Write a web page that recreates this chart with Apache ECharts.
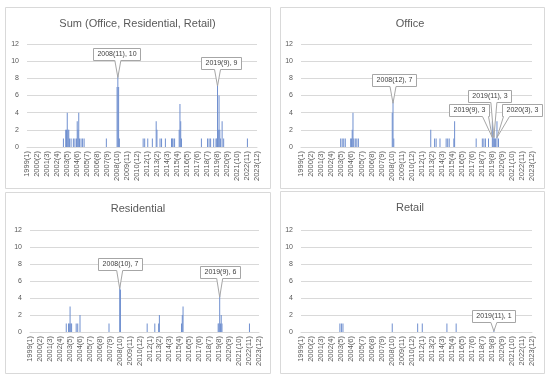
<!DOCTYPE html>
<html><head><meta charset="utf-8">
<script src="https://cdn.jsdelivr.net/npm/echarts@6/dist/echarts.min.js"></script>
<style>html,body{margin:0;padding:0;background:#fff}#c{width:550px;height:377px}</style>
</head><body><div id="c"></div><script>
// ---- categories (monthly, 1999(1) .. 2023(12)) ----
const startYear = 1999, endYear = 2023;
const categories = [];
for (let y = startYear; y <= endYear; y++) for (let m = 1; m <= 12; m++) categories.push(y + '(' + m + ')');

// ---- tick labels ----
const yTicks = [0, 2, 4, 6, 8, 10, 12];

// ---- series values (non-zero months only) ----
const sumPoints = [
  ['2002(12)',1],['2003(3)',2],['2003(4)',2],['2003(5)',4],['2003(6)',2],['2003(7)',2],['2003(8)',1],['2003(10)',1],
  ['2004(1)',1],['2004(3)',1],['2004(5)',1],['2004(6)',3],['2004(7)',2],['2004(8)',4],['2004(9)',1],['2004(11)',1],
  ['2005(1)',1],['2005(3)',1],['2007(8)',1],['2008(10)',7],['2008(11)',10],['2008(12)',7],['2009(1)',1],
  ['2011(8)',1],['2011(10)',1],['2012(2)',1],['2012(8)',1],['2013(1)',3],['2013(2)',2],['2013(6)',1],['2013(8)',1],
  ['2014(1)',1],['2014(9)',1],['2014(10)',1],['2014(11)',1],['2015(1)',1],['2015(7)',2],['2015(8)',5],['2015(9)',3],
  ['2015(10)',1],['2017(12)',1],['2018(8)',1],['2018(10)',1],['2018(12)',1],['2019(4)',1],['2019(7)',1],['2019(8)',1],
  ['2019(9)',9],['2019(10)',2],['2019(11)',6],['2019(12)',2],['2020(1)',1],['2020(3)',3],['2020(5)',1],['2022(12)',1]
];
const officePoints = [
  ['2003(4)',1],['2003(6)',1],['2003(8)',1],['2003(10)',1],['2004(5)',1],['2004(6)',1],['2004(7)',2],['2004(8)',4],
  ['2004(9)',1],['2004(11)',1],['2005(1)',1],['2005(3)',1],['2008(11)',4],['2008(12)',7],['2009(1)',1],
  ['2013(1)',2],['2013(6)',1],['2013(8)',1],['2014(1)',1],['2014(9)',1],['2014(11)',1],['2015(1)',1],['2015(7)',1],
  ['2015(8)',3],['2017(12)',1],['2018(8)',1],['2018(10)',1],['2018(12)',1],['2019(4)',1],['2019(9)',3],['2019(10)',1],
  ['2019(11)',3],['2019(12)',1],['2020(1)',1],['2020(3)',3],['2020(5)',1]
];
const residentialPoints = [
  ['2002(12)',1],['2003(3)',1],['2003(4)',1],['2003(5)',3],['2003(6)',1],['2003(7)',1],['2004(1)',1],['2004(3)',1],
  ['2004(6)',2],['2007(8)',1],['2008(10)',7],['2008(11)',5],['2011(10)',1],['2012(8)',1],['2013(1)',1],['2013(2)',2],
  ['2015(7)',1],['2015(8)',2],['2015(9)',3],['2019(7)',1],['2019(8)',1],['2019(9)',6],['2019(10)',1],['2019(11)',2],
  ['2019(12)',1],['2022(12)',1]
];
const retailPoints = [
  ['2003(3)',1],['2003(5)',1],['2003(7)',1],['2008(11)',1],['2011(8)',1],['2012(2)',1],['2014(10)',1],['2015(10)',1],['2019(11)',1]
];

// ---- callouts (category, value) ----
const sumCallouts = [['2008(11)',10],['2019(9)',9]];
const officeCallouts = [['2008(12)',7],['2019(9)',3],['2019(11)',3],['2020(3)',3]];
const residentialCallouts = [['2008(10)',7],['2019(9)',6]];
const retailCallouts = [['2019(11)',1]];

// ---- layout / style ----
const FONT = '"Liberation Sans", Arial, sans-serif';
const panels = [
  {title:'Sum (Office, Residential, Retail)', points:sumPoints, callouts:sumCallouts,
   grid:{left:27, top:44, width:230, height:103}, titleXY:[137.5,24], box:[5,7,265,181],
   offsets:[[-1,-7],[3,-7]]},
  {title:'Office', points:officePoints, callouts:officeCallouts,
   grid:{left:301, top:44, width:231, height:103}, titleXY:[410,24], box:[280,7,264,181],
   offsets:[[1,-7],[-23,-11],[-4,-25],[25,-11]]},
  {title:'Residential', points:residentialPoints, callouts:residentialCallouts,
   grid:{left:30, top:230, width:229, height:102}, titleXY:[138,209], box:[5,192,265,181],
   offsets:[[0,-9],[0,-9]]},
  {title:'Retail', points:retailPoints, callouts:retailCallouts,
   grid:{left:301, top:230, width:231, height:102}, titleXY:[410,208], box:[280,191,264,182],
   offsets:[[0,-8]]}
];

function toSeries(points){
  const map = {}; points.forEach(p => map[p[0]] = p[1]);
  return categories.map(c => (c in map) ? map[c] : null);
}

const chart = echarts.init(document.getElementById('c'), null, {renderer:'canvas'});
const option = {
  animation:false,
  backgroundColor:'#fff',
  grid: panels.map(p => p.grid),
  xAxis: panels.map((p,i) => ({
    type:'category', gridIndex:i, data:categories,
    axisLine:{lineStyle:{color:'#d9d9d9'}}, axisTick:{show:false},
    axisLabel:{interval:12, rotate:90, fontSize:7.5, color:'#595959', margin:4, fontFamily:FONT}
  })),
  yAxis: panels.map((p,i) => ({
    type:'value', gridIndex:i, min:yTicks[0], max:yTicks[yTicks.length-1], interval:yTicks[1]-yTicks[0],
    axisLine:{show:false}, axisTick:{show:false},
    splitLine:{lineStyle:{color:'#d9d9d9'}},
    axisLabel:{fontSize:7, color:'#595959', margin:8, fontFamily:FONT}
  })),
  series: panels.map((p,i) => ({
    type:'bar', xAxisIndex:i, yAxisIndex:i, data:toSeries(p.points),
    barCategoryGap:'40%', itemStyle:{color:'#6f8fcf'}
  }))
};
chart.setOption(option);

// graphics: boxes, titles, callouts
const ctx = document.createElement('canvas').getContext('2d');
const g = [];
panels.forEach((p,i) => {
  g.push({type:'rect', shape:{x:p.box[0]+0.5, y:p.box[1]+0.5, width:p.box[2], height:p.box[3]},
    style:{fill:'none', stroke:'#d9d9d9', lineWidth:1}, silent:true});
  g.push({type:'text', x:p.titleXY[0], y:p.titleXY[1],
    style:{text:p.title, fontSize:11, fill:'#595959', fontFamily:FONT, textAlign:'center', textVerticalAlign:'middle'}});
  p.callouts.forEach((c,k) => {
    const idx = categories.indexOf(c[0]);
    const top = chart.convertToPixel({xAxisIndex:i, yAxisIndex:i}, [idx, c[1]]);
    const tip = chart.convertToPixel({xAxisIndex:i, yAxisIndex:i}, [idx, Math.max(c[1]-1.9, 0.1)]);
    const label = c[0] + ', ' + c[1];
    ctx.font = '7px ' + FONT;
    const w = Math.round(ctx.measureText(label).width + 8), h = 12;
    const off = p.offsets[k];
    const cx = top[0] + off[0], cy = top[1] + off[1];
    const L = Math.round(cx - w/2)+0.5, T = Math.round(cy - h/2)+0.5, R = L + w, B = T + h;
    const bx = Math.min(Math.max(tip[0], L+4), R-4);
    g.push({type:'polygon', z:50, shape:{points:[[L,T],[R,T],[R,B],[bx+3,B],[tip[0],tip[1]],[bx-3,B],[L,B]]},
      style:{fill:'#fff', stroke:'#a6a6a6', lineWidth:1}});
    g.push({type:'text', z:51, x:(L+R)/2, y:(T+B)/2,
      style:{text:label, fontSize:7, fill:'#404040', fontFamily:FONT, textAlign:'center', textVerticalAlign:'middle'}});
  });
});
chart.setOption({graphic:g});
</script></body></html>
